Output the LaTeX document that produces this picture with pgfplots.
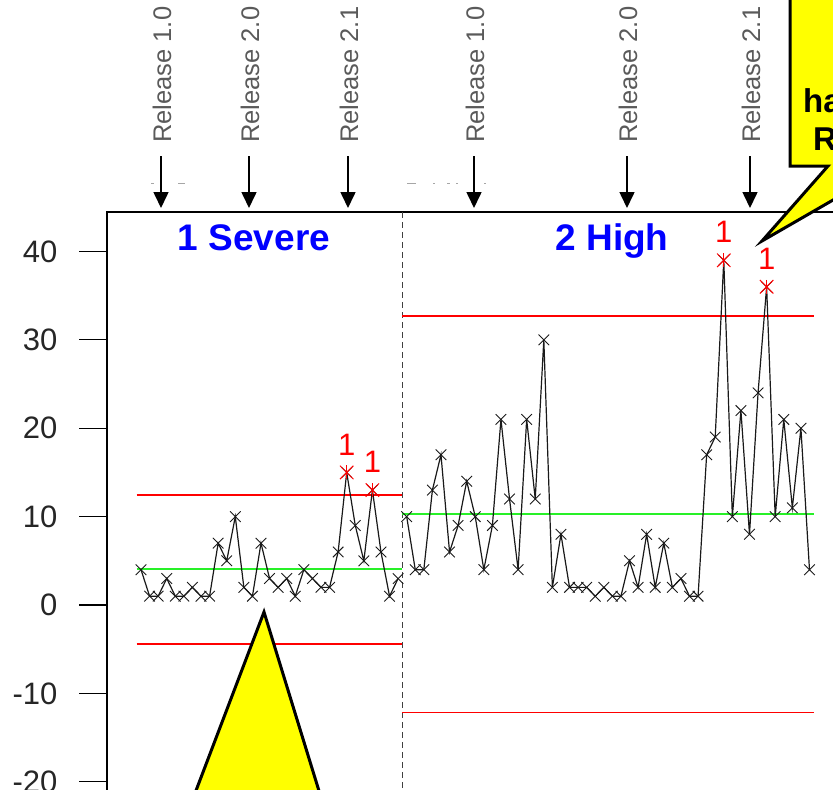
\documentclass[border=0pt]{standalone}
\usepackage{pgfplots}
\pgfplotsset{compat=1.18}
\usepackage{pgfplotstable}
\usetikzlibrary{arrows.meta}
\usepackage{fontspec}
\setmainfont{Liberation Sans}

\definecolor{limitred}{RGB}{255,0,0}
\definecolor{centregreen}{RGB}{40,240,40}
\definecolor{phaseblue}{RGB}{0,0,255}
\definecolor{relgray}{RGB}{90,90,90}
\definecolor{noteyellow}{RGB}{255,255,0}

% defects per build, phase 1 (severity 1) and phase 2 (severity 2)
\pgfplotstableread{
k v
1 4
2 1
3 1
4 3
5 1
6 1
7 2
8 1
9 1
10 7
11 5
12 10
13 2
14 1
15 7
16 3
17 2
18 3
19 1
20 4
21 3
22 2
23 2
24 6
25 15
26 9
27 5
28 13
29 6
30 1
31 3
}\severe

\pgfplotstableread{
k v
32 10
33 4
34 4
35 13
36 17
37 6
38 9
39 14
40 10
41 4
42 9
43 21
44 12
45 4
46 21
47 12
48 30
49 2
50 8
51 2
52 2
53 2
54 1
55 2
56 1
57 1
58 5
59 2
60 8
61 2
62 7
63 2
64 3
65 1
66 1
67 17
68 19
69 39
70 10
71 22
72 8
73 24
74 36
75 10
76 21
77 11
78 20
79 4
}\high

% points beyond the upper control limit
\pgfplotstableread{
k v
25 15
28 13
69 39
74 36
}\flagged

\begin{document}
\begin{tikzpicture}
\useasboundingbox (0pt,0pt) rectangle (833pt,-790pt);
\clip (0pt,0pt) rectangle (833pt,-790pt);

\begin{axis}[
  at={(107pt,-212pt)}, anchor=north west,
  x=8.57pt, y=8.84pt,
  xmin=-2.97, xmax=83, ymin=-26, ymax=44.46,
  axis line style={black, line width=1.3pt},
  xtick=\empty,
  ytick={-20,-10,0,10,20,30,40},
  ytick pos=left, tick align=outside,
  major tick length=28pt,
  tick style={black, line width=1.3pt},
  /pgf/number format/assume math mode=true,
  yticklabel style={font=\fontsize{31}{31}\selectfont, text=black!85, xshift=-18pt},
]
  % phase divider
  \draw[black!75, line width=1pt, dash pattern=on 6pt off 4pt]
    (axis cs:31.5,44.46) -- (axis cs:31.5,-26);

  % control limits and centre lines
  \addplot[limitred, line width=1.5pt] coordinates {(0.5,12.47) (31.5,12.47)};
  \addplot[limitred, line width=1.5pt] coordinates {(0.5,-4.41) (31.5,-4.41)};
  \addplot[centregreen, line width=2pt] coordinates {(0.5,4.03) (31.5,4.03)};
  \addplot[limitred, line width=1.5pt] coordinates {(31.5,32.7) (79.5,32.7)};
  \addplot[limitred, line width=1.5pt] coordinates {(31.5,-12.18) (79.5,-12.18)};
  \addplot[centregreen, line width=2pt] coordinates {(31.5,10.27) (79.5,10.27)};

  % observations
  \addplot[black!90, line width=1.2pt, mark=x, mark size=7.5pt,
    mark options={line width=0.9pt}] table[x=k, y=v] {\severe};
  \addplot[black!90, line width=1.2pt, mark=x, mark size=7.5pt,
    mark options={line width=0.9pt}] table[x=k, y=v] {\high};

  % out-of-control points, rule 1
  \addplot[limitred, only marks, mark=x, mark size=9.5pt,
    mark options={line width=1pt}] table[x=k, y=v] {\flagged};
  \addplot[limitred, only marks, mark=|, mark size=7pt,
    mark options={line width=1pt},
    nodes near coords={1},
    every node near coord/.append style={font=\fontsize{31}{31}\selectfont,
      text=limitred, anchor=center, yshift=28pt}]
    table[x=k, y=v] {\flagged};
\end{axis}

\begin{scope}[x=1pt, y=-1pt]
  % phase names
  \node[anchor=base, font=\fontsize{37}{37}\selectfont\bfseries, text=phaseblue]
    at (254,250) {1 Severe};
  \node[anchor=base, font=\fontsize{37}{37}\selectfont\bfseries, text=phaseblue]
    at (612,250) {2 High};

  % faint fragments of a hidden heading
  \foreach \a/\b in {151/154, 178/185, 407/416, 433/435, 447/450, 456/458, 484/486}
    \draw[gray!70, line width=1pt] (\a,183) -- (\b,183);

  % release markers
  \foreach \xx/\lab in {161/1.0, 249/2.0, 348/2.1, 474/1.0, 627/2.0, 750/2.1} {
    \node[rotate=90, anchor=west, inner sep=0pt,
      font=\fontsize{25.5}{25.5}\selectfont, text=relgray]
      at (\xx+1,143) {Release \lab};
    \draw[black, line width=1.6pt, -{Triangle[width=15pt,length=16pt]}]
      (\xx,156) -- (\xx,208);
  }

  % callouts
  \filldraw[fill=noteyellow, draw=black, line width=3pt, line join=miter]
    (264,612) -- (331,830) -- (181,830) -- cycle;
  \filldraw[fill=noteyellow, draw=black, line width=3pt, line join=miter]
    (790,-30) -- (790,166) -- (828,166) -- (762,241) -- (892,166)
    -- (960,166) -- (960,-30) -- cycle;
  \node[anchor=base west, inner sep=0pt, font=\fontsize{33}{33}\selectfont\bfseries]
    at (803,112) {have};
  \node[anchor=base west, inner sep=0pt, font=\fontsize{33}{33}\selectfont\bfseries]
    at (813,150) {Release};
\end{scope}
\end{tikzpicture}
\end{document}
